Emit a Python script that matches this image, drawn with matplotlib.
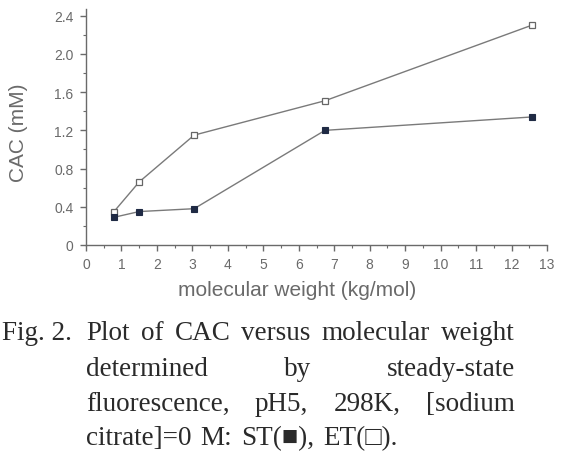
import matplotlib
matplotlib.use("Agg")
import matplotlib.pyplot as plt
from matplotlib.ticker import MultipleLocator

# ---- data ----
mol_weight = [0.79, 1.50, 3.05, 6.74, 12.57]
cac_st = [0.29, 0.35, 0.38, 1.20, 1.34]
cac_et = [0.35, 0.66, 1.15, 1.51, 2.30]
x_ticks = list(range(0, 14))
y_ticks = [0, 0.4, 0.8, 1.2, 1.6, 2.0, 2.4]
y_tick_labels = ["0", "0.4", "0.8", "1.2", "1.6", "2.0", "2.4"]
x_label = "molecular weight (kg/mol)"
y_label = "CAC (mM)"
caption_head = "Fig. 2."
caption_lines = [
    ["Plot", "of", "CAC", "versus", "molecular", "weight"],
    ["determined", "by", "steady-state"],
    ["fluorescence,", "pH5,", "298K,", "[sodium"],
]
caption_last = ["citrate]=0", "M:", "ST(\u25a0),", "ET(\u25a1)."]

W, H = 582, 452
fig = plt.figure(figsize=(W / 100, H / 100), dpi=100)
ax = fig.add_axes([86 / W, 1 - 246 / H, 461 / W, 236 / H])

gray = "#6a6a6a"
line_c = "#7a7a7a"
ax.plot(mol_weight, cac_et, color=line_c, lw=1.0, marker="s", ms=4.8,
        mfc="white", mec="#666666", mew=0.9, zorder=3)
ax.plot(mol_weight, cac_st, color=line_c, lw=1.0, marker="s", ms=4.8,
        mfc="#1f2a44", mec="#1f2a44", mew=0.8, zorder=3)

ax.set_xlim(0, 13)
ax.set_ylim(0, 2.47)
ax.set_xticks(x_ticks)
ax.set_yticks(y_ticks)
ax.set_yticklabels(y_tick_labels)
ax.xaxis.set_minor_locator(MultipleLocator(0.5))
ax.yaxis.set_minor_locator(MultipleLocator(0.2))
for s in ["top", "right"]:
    ax.spines[s].set_visible(False)
for s in ["left", "bottom"]:
    ax.spines[s].set_color(gray)
    ax.spines[s].set_linewidth(1.0)
ax.tick_params(which="major", direction="out", length=4, width=1.0,
               color=gray, labelcolor=gray, labelsize=10, pad=5)
ax.tick_params(which="minor", direction="out", length=2.5, width=0.8, color=gray)
for lab in ax.get_xticklabels() + ax.get_yticklabels():
    lab.set_family("Liberation Sans")

ax.set_xlabel(x_label, fontsize=15, color=gray, family="Liberation Sans", labelpad=0)
ax.set_ylabel(y_label, fontsize=15, color=gray, family="Liberation Sans", labelpad=6)
ax.xaxis.set_label_coords((297 - 86) / 461, -(281 - 246) / 236)
ax.yaxis.set_label_coords(-(86 - 28) / 461, (246 - 133) / 236)

# ---- caption with justified lines ----
cap_font = dict(fontsize=19.5, color="#2a2a2a",
                family=["Liberation Serif", "DejaVu Sans"])
left, right = 86, 515
baselines = [340, 376, 411, 445]

fig.text(2 / W, 1 - baselines[0] / H, caption_head, va="baseline", ha="left", **cap_font)

fig.canvas.draw()
renderer = fig.canvas.get_renderer()
for li, words in enumerate(caption_lines):
    y = 1 - baselines[li] / H
    texts = [fig.text(0, y, w, va="baseline", ha="left", **cap_font) for w in words]
    widths = [t.get_window_extent(renderer).width for t in texts]
    gap = (right - left - sum(widths)) / (len(words) - 1)
    x = left
    for t, w in zip(texts, widths):
        t.set_x(x / W)
        x += w + gap

# last line: left aligned with slightly wide word spacing
y = 1 - baselines[3] / H
x = left
for w in caption_last:
    t = fig.text(x / W, y, w, va="baseline", ha="left", **cap_font)
    x += t.get_window_extent(renderer).width + 9

fig.savefig("out.png", dpi=100)
